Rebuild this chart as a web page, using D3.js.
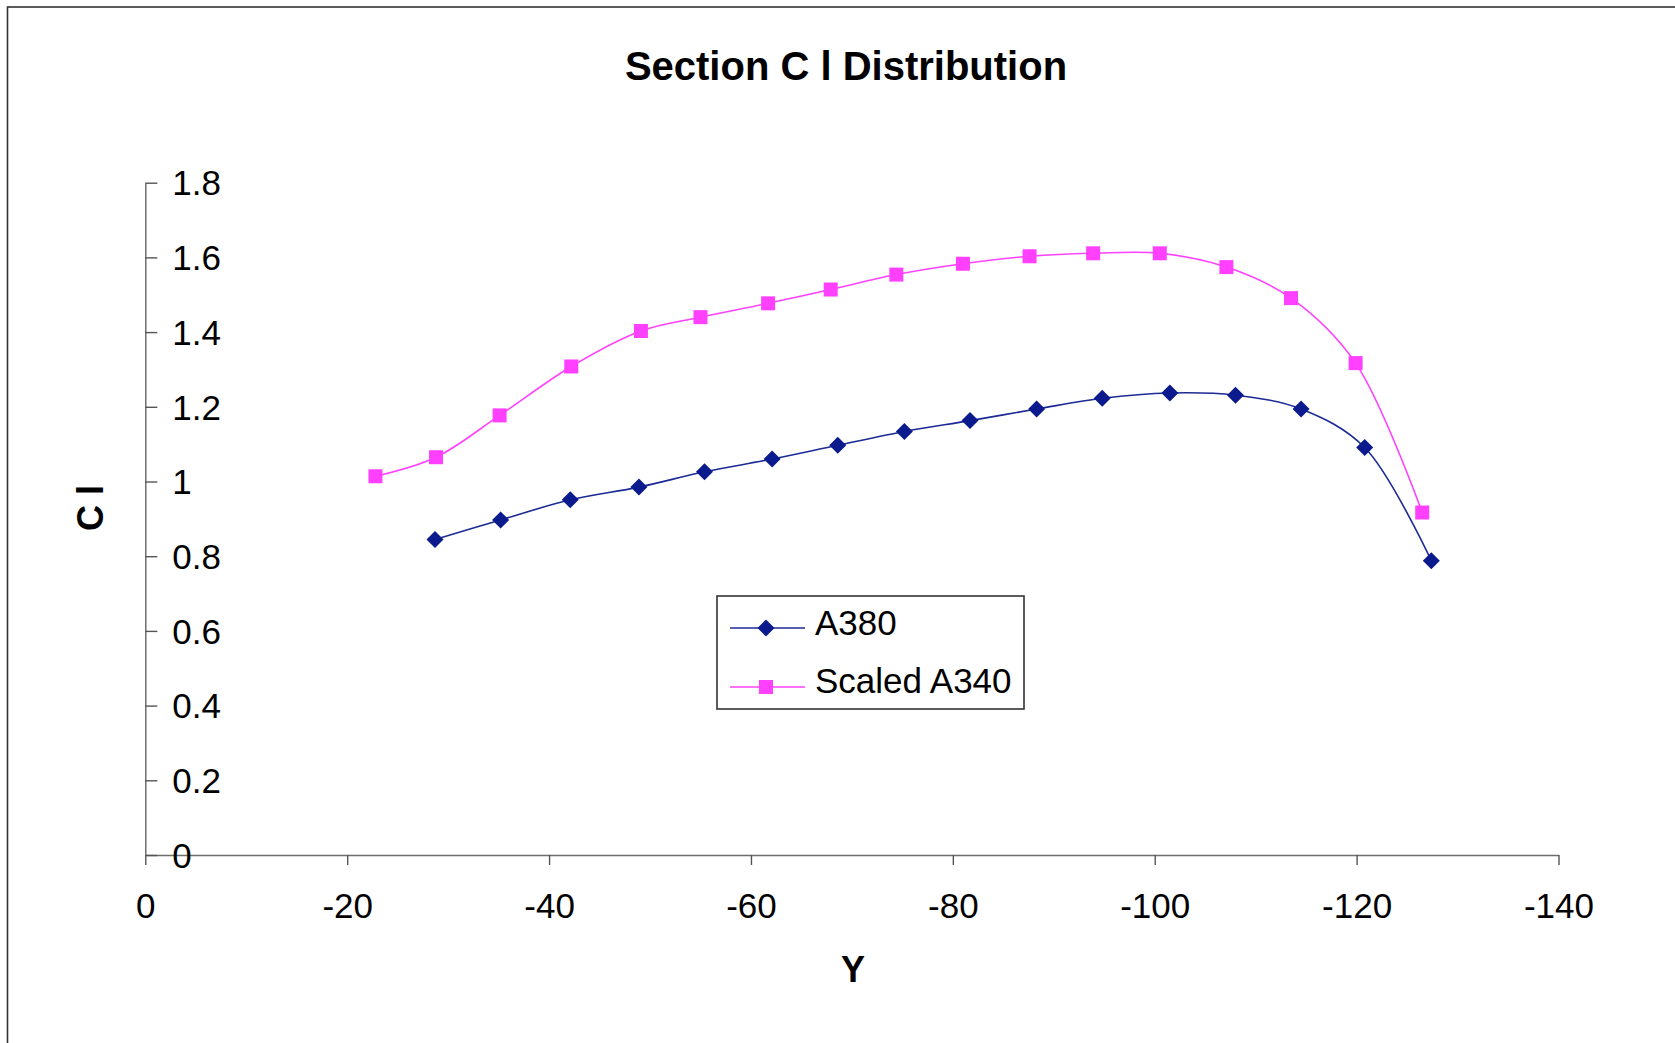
<!DOCTYPE html>
<html>
<head>
<meta charset="utf-8">
<script src="https://cdn.jsdelivr.net/npm/d3@7"></script>
<style>
  html, body { margin: 0; padding: 0; background: #fff; }
  svg { display: block; font-family: "Liberation Sans", Arial, sans-serif; }
</style>
</head>
<body>
<svg id="chart" width="1675" height="1043"></svg>
<script>
// ---- Data ----
const chartTitle = "Section C l Distribution";
const xTitle = "Y";
const yTitle = "C l";
const seriesNames = ["A380", "Scaled A340"];

const yA380  = [-28.7, -35.2, -42.1, -48.9, -55.4, -62.1, -68.6, -75.2, -81.7, -88.3, -94.8, -101.5, -108.0, -114.5, -120.8, -127.4];
const clA380 = [0.845, 0.897, 0.951, 0.985, 1.026, 1.060, 1.097, 1.134, 1.163, 1.194, 1.223, 1.237, 1.231, 1.194, 1.091, 0.788];

const yA340  = [-22.8, -28.8, -35.1, -42.2, -49.1, -55.0, -61.7, -67.9, -74.4, -81.0, -87.6, -93.9, -100.5, -107.1, -113.5, -119.9, -126.5];
const clA340 = [1.014, 1.065, 1.177, 1.308, 1.403, 1.440, 1.477, 1.514, 1.554, 1.583, 1.603, 1.611, 1.611, 1.574, 1.491, 1.317, 0.917];

const xTicks = [0, -20, -40, -60, -80, -100, -120, -140];
const yTicks = [0, 0.2, 0.4, 0.6, 0.8, 1, 1.2, 1.4, 1.6, 1.8];

// ---- Layout ----
const svg = d3.select("#chart");
const plotLeft = 145.3, plotRight = 1558.5, plotTop = 182.7, plotBottom = 855;
const blue = "#0B1A8C", blueLine = "#1B2A95", pink = "#FF40FF";

const x = d3.scaleLinear().domain([0, -140]).range([plotLeft, plotRight]);
const y = d3.scaleLinear().domain([0, 1.8]).range([plotBottom, plotTop]);

// outer border
svg.append("rect")
  .attr("x", 7.5).attr("y", 7).attr("width", 1700).attr("height", 1100)
  .attr("fill", "none").attr("stroke", "#333").attr("stroke-width", 1.6);

// title
svg.append("text")
  .attr("x", 846).attr("y", 80)
  .attr("text-anchor", "middle")
  .attr("font-size", 40).attr("font-weight", "bold")
  .text(chartTitle);

// x axis
const xAxis = d3.axisBottom(x).tickValues(xTicks).tickSize(10).tickSizeOuter(0)
  .tickFormat(d => String(d));
const gx = svg.append("g").attr("transform", `translate(0,${plotBottom})`).call(xAxis);
gx.select(".domain").attr("stroke", "#6e6e6e").attr("stroke-width", 1.5);
gx.selectAll(".tick line").attr("stroke", "#555").attr("stroke-width", 1.4);
gx.selectAll(".tick text").attr("y", 63).attr("dy", null)
  .attr("font-size", 35).attr("fill", "#000")
  .attr("font-family", "'Liberation Sans', Arial, sans-serif");

// y axis (ticks point into plot, labels inside)
const yAxis = d3.axisRight(y).tickValues(yTicks).tickSize(12).tickSizeOuter(0)
  .tickFormat(d => String(+d.toFixed(1)));
const gy = svg.append("g").attr("transform", `translate(${plotLeft},0)`).call(yAxis);
gy.select(".domain").attr("stroke", "#6e6e6e").attr("stroke-width", 1.5);
gy.selectAll(".tick line").attr("stroke", "#555").attr("stroke-width", 1.4);
gy.selectAll(".tick text").attr("x", 27).attr("dy", "0.35em")
  .attr("text-anchor", "start")
  .attr("font-size", 35).attr("fill", "#000")
  .attr("font-family", "'Liberation Sans', Arial, sans-serif");

// axis titles
svg.append("text")
  .attr("x", 853).attr("y", 981.5)
  .attr("text-anchor", "middle")
  .attr("font-size", 36).attr("font-weight", "bold")
  .text(xTitle);
svg.append("text")
  .attr("transform", "translate(103,508) rotate(-90)")
  .attr("text-anchor", "middle")
  .attr("font-size", 36).attr("font-weight", "bold")
  .text(yTitle);

// series
const s380 = yA380.map((v, i) => [v, clA380[i]]);
const s340 = yA340.map((v, i) => [v, clA340[i]]);
const line = d3.line().x(d => x(d[0])).y(d => y(d[1])).curve(d3.curveCatmullRom.alpha(0.5));

svg.append("path").datum(s340).attr("d", line)
  .attr("fill", "none").attr("stroke", pink).attr("stroke-width", 1.6);
svg.append("path").datum(s380).attr("d", line)
  .attr("fill", "none").attr("stroke", blueLine).attr("stroke-width", 1.6);

const sq = 14, dia = 8.5;
svg.append("g").selectAll("rect").data(s340).join("rect")
  .attr("x", d => x(d[0]) - sq / 2).attr("y", d => y(d[1]) - sq / 2)
  .attr("width", sq).attr("height", sq).attr("fill", pink);
const diamondPath = `M0,${-dia}L${dia},0L0,${dia}L${-dia},0Z`;
svg.append("g").selectAll("path").data(s380).join("path")
  .attr("transform", d => `translate(${x(d[0])},${y(d[1])})`)
  .attr("d", diamondPath).attr("fill", blue);

// legend
const leg = svg.append("g");
leg.append("rect").attr("x", 717).attr("y", 596).attr("width", 307).attr("height", 113)
  .attr("fill", "#fff").attr("stroke", "#333").attr("stroke-width", 1.6);
const legRows = [
  { name: seriesNames[0], color: blueLine, fill: blue, shape: "diamond", ly: 628, ty: 635 },
  { name: seriesNames[1], color: pink, fill: pink, shape: "square", ly: 687, ty: 693 }
];
legRows.forEach(r => {
  leg.append("line").attr("x1", 730).attr("x2", 805).attr("y1", r.ly).attr("y2", r.ly)
    .attr("stroke", r.color).attr("stroke-width", 1.6);
  if (r.shape === "diamond") {
    leg.append("path").attr("transform", `translate(766,${r.ly})`).attr("d", diamondPath).attr("fill", r.fill);
  } else {
    leg.append("rect").attr("x", 766 - sq / 2).attr("y", r.ly - sq / 2)
      .attr("width", sq).attr("height", sq).attr("fill", r.fill);
  }
  leg.append("text").attr("x", 815).attr("y", r.ty)
    .attr("font-size", 35).text(r.name);
});
</script>
</body>
</html>
